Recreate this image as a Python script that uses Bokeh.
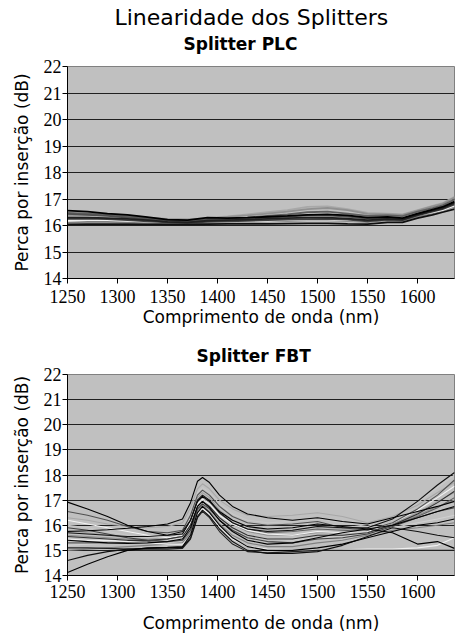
from bokeh.plotting import figure
from bokeh.layouts import column
from bokeh.models import Title
from bokeh.embed import file_html
from bokeh.resources import INLINE

# ---------------- data ----------------
wavelength_plc = [1250, 1270, 1290, 1310, 1330, 1350, 1370, 1390, 1410, 1430, 1450,
                  1470, 1490, 1510, 1530, 1550, 1570, 1585, 1600, 1615, 1625, 1637]

plc_1 = [16.56, 16.52, 16.45, 16.40, 16.32, 16.22, 16.20, 16.30, 16.28, 16.30, 16.33, 16.36, 16.40, 16.42, 16.38, 16.30, 16.32, 16.28, 16.45, 16.60, 16.70, 16.90]
plc_2 = [16.48, 16.45, 16.40, 16.34, 16.28, 16.20, 16.18, 16.24, 16.26, 16.30, 16.36, 16.42, 16.50, 16.52, 16.45, 16.36, 16.38, 16.35, 16.52, 16.66, 16.76, 16.98]
plc_3 = [16.40, 16.42, 16.44, 16.38, 16.30, 16.24, 16.22, 16.26, 16.32, 16.38, 16.45, 16.52, 16.62, 16.66, 16.58, 16.44, 16.42, 16.40, 16.56, 16.72, 16.82, 17.05]
plc_4 = [16.35, 16.38, 16.40, 16.36, 16.30, 16.25, 16.24, 16.28, 16.34, 16.42, 16.50, 16.58, 16.70, 16.72, 16.62, 16.48, 16.45, 16.42, 16.58, 16.74, 16.84, 17.08]
plc_5 = [16.30, 16.30, 16.28, 16.25, 16.20, 16.14, 16.12, 16.18, 16.20, 16.22, 16.25, 16.28, 16.30, 16.30, 16.26, 16.20, 16.24, 16.22, 16.40, 16.56, 16.65, 16.85]
plc_6 = [16.25, 16.26, 16.24, 16.20, 16.16, 16.12, 16.10, 16.14, 16.16, 16.18, 16.20, 16.22, 16.24, 16.25, 16.22, 16.16, 16.22, 16.20, 16.38, 16.52, 16.62, 16.80]
plc_7 = [16.18, 16.20, 16.20, 16.18, 16.15, 16.12, 16.12, 16.14, 16.15, 16.16, 16.18, 16.20, 16.22, 16.22, 16.20, 16.18, 16.24, 16.24, 16.40, 16.50, 16.58, 16.75]
plc_8 = [16.12, 16.14, 16.14, 16.12, 16.10, 16.08, 16.08, 16.10, 16.12, 16.14, 16.16, 16.18, 16.20, 16.20, 16.18, 16.14, 16.20, 16.18, 16.34, 16.46, 16.56, 16.72]
plc_9 = [16.04, 16.05, 16.05, 16.05, 16.04, 16.04, 16.04, 16.05, 16.06, 16.06, 16.06, 16.07, 16.08, 16.08, 16.06, 16.05, 16.12, 16.12, 16.28, 16.40, 16.50, 16.62]
plc_10 = [16.22, 16.24, 16.30, 16.28, 16.22, 16.16, 16.15, 16.20, 16.24, 16.28, 16.34, 16.40, 16.48, 16.50, 16.44, 16.30, 16.30, 16.30, 16.46, 16.62, 16.72, 16.95]
plc_11 = [16.44, 16.40, 16.36, 16.30, 16.24, 16.18, 16.16, 16.22, 16.24, 16.26, 16.30, 16.34, 16.38, 16.38, 16.34, 16.26, 16.28, 16.26, 16.44, 16.58, 16.68, 16.88]

wavelength_fbt = [1250, 1270, 1290, 1310, 1330, 1350, 1365, 1373, 1380, 1385, 1392, 1402,
                  1415, 1430, 1450, 1475, 1500, 1525, 1550, 1575, 1600, 1620, 1637]

fbt_1 = [15.75, 15.78, 15.82, 15.88, 15.95, 16.05, 16.25, 16.9, 17.75, 17.9, 17.7, 17.2, 16.75, 16.45, 16.3, 16.2, 16.3, 16.15, 16.05, 16.3, 16.55, 16.75, 16.95]
fbt_2 = [16.3, 16.2, 16.05, 15.95, 15.9, 15.95, 16.1, 16.7, 17.45, 17.65, 17.45, 17.0, 16.65, 16.4, 16.35, 16.4, 16.5, 16.35, 16.1, 16.35, 16.8, 17.3, 17.7]
fbt_3 = [16.92, 16.65, 16.35, 16.0, 15.75, 15.6, 15.65, 16.2, 16.95, 17.15, 16.95, 16.55, 16.2, 15.95, 15.85, 15.9, 16.05, 15.95, 15.85, 16.0, 16.3, 16.55, 16.75]
fbt_4 = [16.55, 16.4, 16.2, 15.95, 15.75, 15.7, 15.8, 16.4, 17.2, 17.4, 17.2, 16.75, 16.35, 16.1, 16.0, 16.05, 16.15, 15.9, 15.8, 16.1, 16.65, 17.2, 17.8]
fbt_5 = [16.2, 16.05, 15.9, 15.75, 15.6, 15.5, 15.6, 16.1, 16.85, 17.05, 16.85, 16.4, 16.05, 15.8, 15.65, 15.6, 15.75, 15.7, 15.75, 16.1, 16.6, 17.1, 17.55]
fbt_6 = [14.12, 14.45, 14.75, 15.0, 15.1, 15.12, 15.15, 15.6, 16.5, 16.75, 16.5, 16.0, 15.5, 15.15, 15.0, 15.0, 15.1, 15.25, 15.5, 15.75, 16.0, 16.1, 16.25]
fbt_7 = [14.6, 14.8, 14.95, 15.05, 15.08, 15.1, 15.12, 15.5, 16.35, 16.6, 16.35, 15.85, 15.35, 15.0, 14.88, 14.88, 14.95, 15.2, 15.55, 15.9, 15.75, 15.6, 15.5]
fbt_8 = [15.4, 15.35, 15.3, 15.28, 15.3, 15.35, 15.45, 15.9, 16.75, 16.95, 16.7, 16.2, 15.75, 15.4, 15.25, 15.3, 15.5, 15.7, 15.85, 15.7, 15.25, 15.35, 15.08]
fbt_9 = [15.6, 15.55, 15.5, 15.45, 15.4, 15.45, 15.55, 16.0, 16.9, 17.1, 16.9, 16.45, 16.05, 15.75, 15.6, 15.6, 15.7, 15.7, 15.75, 16.05, 16.4, 16.75, 17.0]
fbt_10 = [15.2, 15.25, 15.3, 15.3, 15.35, 15.4, 15.5, 15.9, 16.8, 17.0, 16.8, 16.35, 15.9, 15.6, 15.45, 15.4, 15.5, 15.55, 15.7, 15.9, 16.1, 16.25, 16.4]
fbt_11 = [15.9, 15.8, 15.65, 15.5, 15.4, 15.35, 15.4, 15.8, 16.65, 16.85, 16.65, 16.2, 15.8, 15.5, 15.35, 15.3, 15.45, 15.5, 15.65, 15.95, 16.3, 16.55, 16.7]
fbt_12 = [15.0, 15.05, 15.1, 15.15, 15.2, 15.25, 15.3, 15.7, 16.6, 16.8, 16.55, 16.05, 15.6, 15.3, 15.15, 15.15, 15.3, 15.4, 15.6, 15.8, 15.9, 16.0, 16.1]
fbt_13 = [15.45, 15.4, 15.4, 15.35, 15.3, 15.25, 15.25, 15.55, 16.4, 16.65, 16.45, 15.95, 15.45, 15.15, 15.05, 15.02, 15.0, 15.02, 15.05, 15.05, 15.1, 15.2, 15.5]
fbt_14 = [15.1, 15.1, 15.08, 15.05, 15.05, 15.05, 15.08, 15.45, 16.3, 16.55, 16.3, 15.75, 15.25, 14.95, 14.9, 14.95, 15.0, 15.0, 15.0, 15.0, 15.0, 15.0, 15.0]
fbt_15 = [15.8, 15.7, 15.6, 15.5, 15.45, 15.5, 15.7, 16.2, 17.1, 17.3, 17.1, 16.6, 16.2, 15.95, 15.8, 15.8, 15.95, 15.85, 15.8, 16.05, 16.5, 16.95, 17.3]
fbt_16 = [15.3, 15.3, 15.3, 15.32, 15.35, 15.45, 15.6, 16.05, 16.95, 17.15, 16.95, 16.5, 16.1, 15.85, 15.7, 15.75, 15.85, 15.8, 15.75, 16.0, 16.35, 16.7, 17.1]
fbt_17 = [16.0, 15.9, 15.75, 15.6, 15.5, 15.55, 15.75, 16.3, 17.3, 17.5, 17.3, 16.85, 16.45, 16.2, 16.1, 16.15, 16.25, 16.1, 15.95, 16.25, 16.9, 17.5, 18.0]
fbt_18 = [15.55, 15.5, 15.45, 15.4, 15.4, 15.45, 15.55, 16.0, 16.75, 16.95, 16.75, 16.3, 15.9, 15.6, 15.45, 15.45, 15.6, 15.6, 15.7, 16.0, 16.45, 16.9, 17.35]
fbt_19 = [15.7, 15.65, 15.6, 15.55, 15.55, 15.6, 15.75, 16.2, 17.0, 17.2, 17.0, 16.5, 16.1, 15.85, 15.75, 15.8, 15.95, 15.9, 15.9, 16.25, 16.95, 17.6, 18.1]

x_ticks = [1250, 1300, 1350, 1400, 1450, 1500, 1550, 1600]
y_ticks = [14, 15, 16, 17, 18, 19, 20, 21, 22]

main_title = "Linearidade dos Splitters"
plc_title = "Splitter PLC"
fbt_title = "Splitter FBT"
x_label = "Comprimento de onda (nm)"
y_label = "Perca por inserção (dB)"

plc_series = [
    (plc_4, "#a8a8a8"), (plc_3, "#909090"), (plc_10, "#d8d8d8"), (plc_2, "#606060"),
    (plc_8, "#808080"), (plc_7, "#f0f0f0"), (plc_6, "#404040"), (plc_11, "#505050"),
    (plc_5, "#202020"), (plc_9, "#101010"), (plc_1, "#000000"),
]
fbt_series = [
    (fbt_17, "#c8c8c8"), (fbt_2, "#a8a8a8"), (fbt_15, "#a0a0a0"), (fbt_9, "#909090"),
    (fbt_10, "#d0d0d0"), (fbt_12, "#808080"), (fbt_16, "#606060"), (fbt_5, "#f4f4f4"),
    (fbt_13, "#f0f0f0"), (fbt_18, "#303030"), (fbt_11, "#404040"), (fbt_4, "#505050"),
    (fbt_14, "#202020"), (fbt_7, "#101010"), (fbt_6, "#000000"), (fbt_8, "#000000"),
    (fbt_3, "#000000"), (fbt_19, "#101010"), (fbt_1, "#000000"),
]

AX_FONT = "DejaVu Sans"
TICK_FONT = "Liberation Serif"


def style(p, tick_standoff, label_standoff):
    p.background_fill_color = "#c0c0c0"
    p.border_fill_color = "white"
    p.outline_line_color = "#808080"
    p.outline_line_width = 1
    p.xgrid.visible = False
    p.ygrid.grid_line_color = "#202020"
    p.ygrid.grid_line_width = 1
    p.xaxis.ticker = x_ticks
    p.yaxis.ticker = y_ticks
    p.xaxis.major_label_text_font = TICK_FONT
    p.yaxis.major_label_text_font = TICK_FONT
    p.xaxis.major_label_text_font_size = "18px"
    p.yaxis.major_label_text_font_size = "18px"
    for ax in (p.xaxis[0], p.yaxis[0]):
        ax.axis_line_color = "black"
        ax.major_tick_line_color = "black"
        ax.major_tick_out = 5
        ax.major_tick_in = 0
        ax.minor_tick_line_color = None
        ax.major_label_text_font_style = "normal"
        ax.major_label_text_color = "black"
        ax.axis_label_text_font = AX_FONT
        ax.axis_label_text_font_size = "17px"
        ax.axis_label_text_font_style = "normal"
        ax.axis_label_text_color = "black"
    p.xaxis.axis_label = x_label
    p.yaxis.axis_label = y_label
    p.xaxis.major_label_standoff = tick_standoff
    p.yaxis.major_label_standoff = 1
    p.xaxis.axis_label_standoff = label_standoff
    p.yaxis.axis_label_standoff = 9


# ---------------- top figure ----------------
p1 = figure(width=455, height=335, x_range=(1250, 1637), y_range=(14, 22),
            output_backend="svg", toolbar_location=None, title=None,
            min_border_left=67, min_border_right=1, min_border_top=66, min_border_bottom=57)
style(p1, 6, 1)
# spacer keeps the subtitle a little above the frame
p1.add_layout(Title(text=" ", text_font=AX_FONT, text_font_size="1px", standoff=8), "above")
p1.add_layout(Title(text=plc_title, text_font=AX_FONT, text_font_size="17px",
                    text_font_style="bold", align="left", offset=116, standoff=4,
                    text_color="black"), "above")
p1.add_layout(Title(text=main_title, text_font=AX_FONT, text_font_size="22px",
                    text_font_style="normal", align="left", offset=47, standoff=0,
                    text_color="black"), "above")
for ys, col in plc_series:
    p1.line(wavelength_plc, ys, line_color=col, line_width=1.8)

# ---------------- bottom figure ----------------
p2 = figure(width=455, height=302, x_range=(1250, 1637), y_range=(14, 22),
            output_backend="svg", toolbar_location=None, title=None,
            min_border_left=67, min_border_right=1, min_border_top=39, min_border_bottom=62)
style(p2, 4, 12)
p2.add_layout(Title(text=fbt_title, text_font=AX_FONT, text_font_size="17px",
                    text_font_style="bold", align="left", offset=129, standoff=17,
                    text_color="black"), "above")
for ys, col in fbt_series:
    p2.line(wavelength_fbt, ys, line_color=col, line_width=1.1)

layout = column(p1, p2, spacing=0)
open("out.html", "w").write(file_html(layout, INLINE))
